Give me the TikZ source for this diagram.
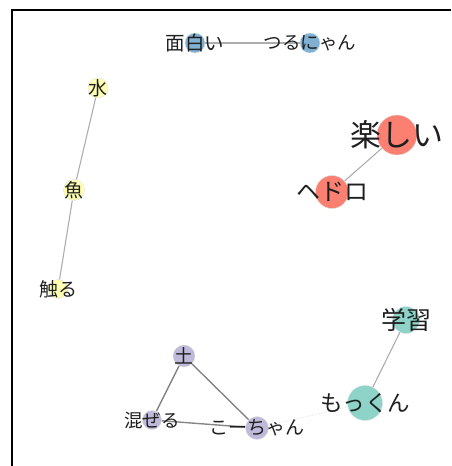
\documentclass[tikz,border=0pt]{standalone}
\usepackage{fontspec}
\newfontfamily\jp{Noto Sans CJK JP}
\usetikzlibrary{backgrounds}
\definecolor{cblue}{HTML}{80B1D3}
\definecolor{cred}{HTML}{FB8072}
\definecolor{cyel}{HTML}{FFFFB3}
\definecolor{cpur}{HTML}{BEBADA}
\definecolor{cteal}{HTML}{8DD3C7}
\begin{document}
\begin{tikzpicture}[x=1pt,y=-1pt,
  nd/.style={circle,inner sep=0pt,draw=black!12,line width=0.4pt,fill=#1},
  lab/.style={font=\jp\fontsize{#1}{#1}\selectfont,text=black!88,inner sep=0pt},
  edge/.style={draw=black!32,line width=1.1pt},
  dedge/.style={draw=black!48,line width=1.4pt},
  ledge/.style={draw=black!10,line width=0.8pt,densely dotted}]
\useasboundingbox (0,0) rectangle (451,466);
\draw[line width=1.3pt] (12,466) |- (451,10);
\node[nd=cblue,minimum size=20pt,label={[lab=19.5]center:面白い}] (omo) at (195,43) {};
\node[nd=cblue,minimum size=20pt,label={[lab=18.5]center:つるにゃん}] (tsuru) at (310,43) {};
\node[nd=cyel,minimum size=20pt,label={[lab=19]center:水}] (mizu) at (98,88) {};
\node[nd=cyel,minimum size=21pt,label={[lab=19]center:魚}] (sakana) at (74,190) {};
\node[nd=cyel,minimum size=19pt,label={[lab=19]center:触る}] (sawaru) at (58,289) {};
\node[nd=cred,minimum size=40pt,label={[lab=31]center:楽しい}] (tano) at (397,135) {};
\node[nd=cred,minimum size=33pt,label={[lab=24]center:ヘドロ}] (hedoro) at (332,192) {};
\node[nd=cteal,minimum size=27pt,label={[lab=25]center:学習}] (gaku) at (406,320) {};
\node[nd=cteal,minimum size=35pt,label={[lab=22.5]center:もっくん}] (mokkun) at (365,403) {};
\node[nd=cpur,minimum size=22pt,label={[lab=19]center:土}] (tsuchi) at (184,356) {};
\node[nd=cpur,minimum size=19pt,label={[lab=18.5]center:混ぜる}] (mazeru) at (152,420) {};
\node[nd=cpur,minimum size=23pt,label={[lab=19]center:こーちゃん}] (kochan) at (257,428) {};
\begin{scope}[on background layer]
\draw[edge] (omo) -- (tsuru);
\draw[edge] (mizu) -- (sakana);
\draw[edge] (sakana) -- (sawaru);
\draw[edge] (tano) -- (hedoro);
\draw[edge] (gaku) -- (mokkun);
\draw[dedge] (tsuchi) -- (mazeru);
\draw[dedge] (tsuchi) -- (kochan);
\draw[dedge] (mazeru) -- (kochan);
\draw[ledge] (kochan) -- (mokkun);
\end{scope}
\end{tikzpicture}
\end{document}
